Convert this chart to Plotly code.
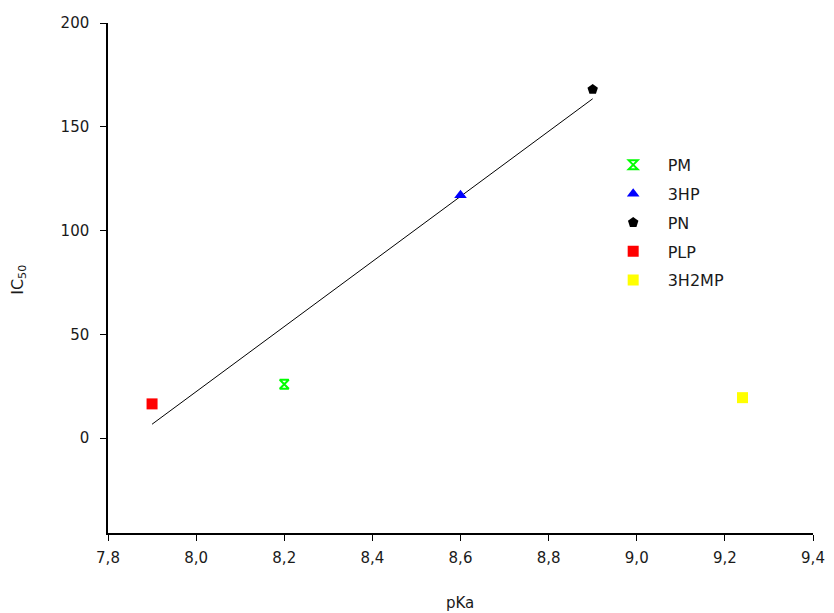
import plotly.graph_objects as go

names = ["PM", "3HP", "PN", "PLP", "3H2MP"]
pka = [8.2, 8.6, 8.9, 7.9, 9.24]
ic50 = [26, 117, 168, 16.5, 19.5]
symbols = ["hourglass-open", "triangle-up", "pentagon", "square", "square"]
colors = ["#00ff00", "#0000ff", "#000000", "#ff0000", "#ffff00"]

fit_x = [7.9, 8.9]
fit_y = [6.7, 163.5]

FONT = "DejaVu Sans, Verdana, sans-serif"

fig = go.Figure()
fig.add_trace(go.Scatter(x=fit_x, y=fit_y, mode="lines",
                         line=dict(color="black", width=1), showlegend=False,
                         hoverinfo="skip"))
for n, x, y, s, c in zip(names, pka, ic50, symbols, colors):
    fig.add_trace(go.Scatter(
        x=[x], y=[y], mode="markers", name=n, legendgroup=n,
        marker=dict(symbol=s, color=c, size=11 if s != "hourglass-open" else 9,
                    line=dict(color=c, width=2 if s == "hourglass-open" else 0)),
    ))

fig.update_layout(
    width=834, height=613,
    margin=dict(l=108, r=21, t=23, b=80),
    paper_bgcolor="white", plot_bgcolor="white",
    separators=",.",
    font=dict(family=FONT, size=15, color="#1a1a1a"),
    showlegend=True,
    legend=dict(x=0.696, y=0.755, xanchor="left", yanchor="top",
                bgcolor="rgba(0,0,0,0)", tracegroupgap=5, itemwidth=59,
                font=dict(size=16)),
    annotations=[
        dict(text="pKa", xref="paper", yref="paper", x=0.4993, y=-0.137,
             showarrow=False, xanchor="center", yanchor="middle",
             font=dict(size=15)),
        dict(text="IC<sub>50</sub>", xref="paper", yref="paper", x=-0.128, y=0.496,
             showarrow=False, xanchor="center", yanchor="middle", textangle=-90,
             font=dict(size=16)),
    ],
)
fig.update_xaxes(range=[7.8, 9.4], tickvals=[7.8, 8.0, 8.2, 8.4, 8.6, 8.8, 9.0, 9.2, 9.4],
                 tickformat=".1f", ticklabelstandoff=4, automargin=False,
                 showline=True, linecolor="black", linewidth=1.5, ticks="outside",
                 ticklen=6, tickcolor="black", showgrid=False, zeroline=False)
fig.update_yaxes(range=[-45.7, 200], tickvals=[0, 50, 100, 150, 200],
                 ticklabelstandoff=8, automargin=False,
                 showline=True, linecolor="black", linewidth=1.5, ticks="outside",
                 ticklen=6, tickcolor="black", showgrid=False, zeroline=False)

fig.write_html("out.html")
